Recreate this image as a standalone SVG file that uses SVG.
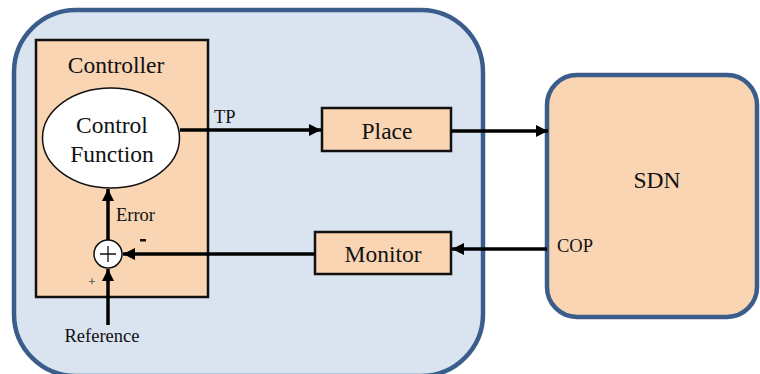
<svg xmlns="http://www.w3.org/2000/svg" width="760" height="374" viewBox="0 0 760 374">
<style>
text{font-family:'Liberation Serif','DejaVu Serif',serif;fill:#111}
.box{fill:#f9d5b4;stroke:#111;stroke-width:2.5}
.rnd{stroke:#3a5d8c;stroke-width:4.5}
.ln{stroke:#000;stroke-width:3.5;fill:none}
.big{font-size:23.5px}
.sm{font-size:18.5px}
</style>
<defs>
<marker id="ah" markerUnits="userSpaceOnUse" markerWidth="14" markerHeight="14" refX="12" refY="6" orient="auto">
<path d="M0,0 L12,6 L0,12 Z" fill="#000"/>
</marker>
</defs>
<rect width="760" height="374" fill="#fff"/>
<g id="env">
<rect class="rnd" x="14" y="10" width="469" height="366" rx="62" fill="#dae3f0"/>
</g>
<g id="sdn">
<rect class="rnd" x="547" y="75" width="210" height="242" rx="30" fill="#f9d5b4"/>
<text class="big" x="657" y="188" text-anchor="middle" font-family="Liberation Serif, serif">SDN</text>
<text class="sm" x="557" y="252" font-family="Liberation Serif, serif">COP</text>
</g>
<g id="controller">
<rect class="box" x="36" y="40" width="172" height="257"/>
<text class="big" x="116" y="73" text-anchor="middle" font-family="Liberation Serif, serif">Controller</text>
</g>
<g id="control-function">
<ellipse cx="111" cy="138" rx="68.5" ry="50" fill="#fff" stroke="#111" stroke-width="1.5"/>
<text class="big" x="112" y="133" text-anchor="middle" font-family="Liberation Serif, serif">Control</text>
<text class="big" x="112" y="162" text-anchor="middle" font-family="Liberation Serif, serif">Function</text>
</g>
<g id="place">
<rect class="box" x="322" y="108" width="129" height="43"/>
<text class="big" x="387" y="139" text-anchor="middle" font-family="Liberation Serif, serif">Place</text>
</g>
<g id="monitor">
<rect class="box" x="315" y="232" width="136" height="42"/>
<text class="big" x="383" y="262" text-anchor="middle" font-family="Liberation Serif, serif">Monitor</text>
</g>
<g id="sum">
<circle cx="108" cy="254" r="14" fill="#fff" stroke="#111" stroke-width="1.5"/>
<path d="M100,254 H116 M108,246 V262" stroke="#111" stroke-width="1.3"/>
</g>
<g id="connectors">
<line class="ln" x1="180" y1="130" x2="321" y2="130" marker-end="url(#ah)"/>
<line class="ln" x1="451" y1="131" x2="548" y2="131" marker-end="url(#ah)"/>
<line class="ln" x1="547" y1="249" x2="452" y2="249" marker-end="url(#ah)"/>
<line class="ln" x1="315" y1="254" x2="123" y2="254" marker-end="url(#ah)"/>
<line class="ln" x1="108" y1="240" x2="108" y2="189" marker-end="url(#ah)"/>
<line class="ln" x1="108" y1="325" x2="108" y2="269" marker-end="url(#ah)"/>
</g>
<g id="labels">
<text class="sm" x="214" y="123" font-family="Liberation Serif, serif">TP</text>
<text class="sm" x="116" y="221" font-family="Liberation Serif, serif">Error</text>
<rect x="140" y="239" width="6" height="2.5" fill="#111"/>
<text x="92" y="286" font-size="13" text-anchor="middle" font-family="Liberation Serif, serif">+</text>
<text class="sm" x="102" y="342" text-anchor="middle" font-family="Liberation Serif, serif">Reference</text>
</g>
</svg>
